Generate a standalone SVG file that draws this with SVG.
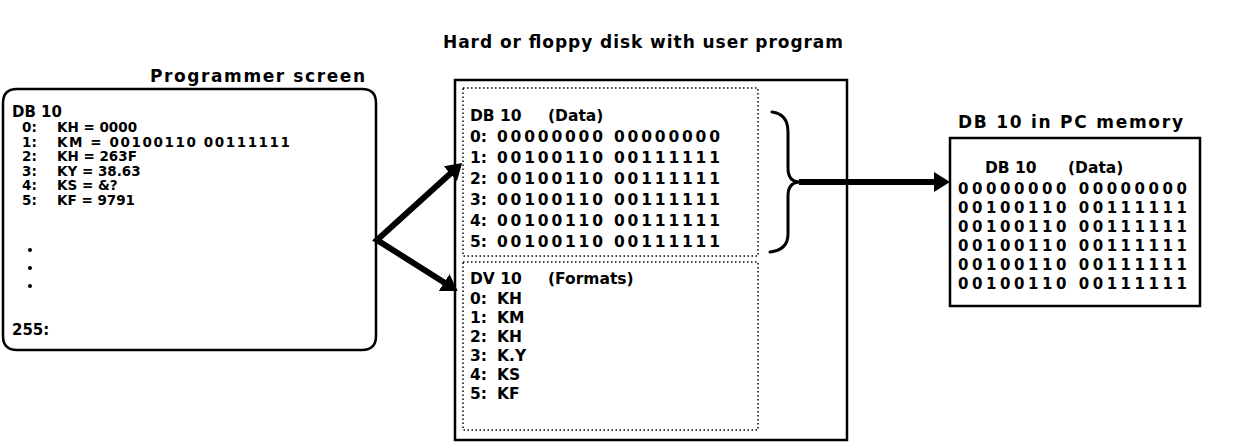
<svg xmlns="http://www.w3.org/2000/svg" width="1247" height="446" viewBox="0 0 1247 446">
<style>
text{font-family:"DejaVu Sans","Liberation Sans",sans-serif;font-weight:bold;fill:#000}
.t{font-size:17px}
.h{font-size:15px}
.s{font-size:13.5px}
.m{font-size:15.5px}
.p{font-size:15px}
.box{fill:none;stroke:#000;stroke-width:2.5}
.dot{fill:none;stroke:#000;stroke-width:1.5;stroke-dasharray:1.5 2.5}
.conn{fill:none;stroke:#000;stroke-width:6;stroke-linejoin:miter}
.brace{fill:none;stroke:#000;stroke-width:3;stroke-linecap:round}
</style>
<defs>
<marker id="ah" viewBox="0 0 16 20" refX="1" refY="10" markerWidth="16" markerHeight="20" orient="auto-start-reverse" markerUnits="userSpaceOnUse">
<path d="M0,0 L16,10 L0,20 z" fill="#000"/>
</marker>
</defs>
<text class="t" x="443" y="48" textLength="400">Hard or floppy disk with user program</text>
<g id="screen">
<text class="t" x="150" y="82" textLength="215">Programmer screen</text>
<path class="box" d="M17,89 H362 Q376,89 376,103 V336 Q376,350 362,350 H17 Q3,350 3,336 V103 Q3,89 17,89 Z"/>
<text class="h" x="12" y="117">DB 10</text>
<text class="s" x="22" y="132">0:</text><text class="s" x="57" y="132">KH = 0000</text>
<text class="s" x="22" y="146.6">1:</text><text class="s" x="57" y="146.6" textLength="233">KM = 00100110 00111111</text>
<text class="s" x="22" y="161.2">2:</text><text class="s" x="57" y="161.2">KH = 263F</text>
<text class="s" x="22" y="175.8">3:</text><text class="s" x="57" y="175.8">KY = 38.63</text>
<text class="s" x="22" y="190.4">4:</text><text class="s" x="57" y="190.4">KS = &amp;?</text>
<text class="s" x="22" y="205">5:</text><text class="s" x="57" y="205">KF = 9791</text>
<circle cx="30" cy="250" r="2"/>
<circle cx="30" cy="268" r="2"/>
<circle cx="30" cy="286" r="2"/>
<text class="h" x="12" y="335">255:</text>
</g>
<g id="disk">
<rect class="box" x="455" y="80" width="392" height="360"/>
<rect class="dot" x="463" y="88" width="295" height="168"/>
<rect class="dot" x="463" y="262" width="295" height="168"/>
<text class="m" x="470" y="121">DB 10</text><text class="m" x="548" y="121">(Data)</text>
<text class="m" x="470" y="142">0:</text><text class="m" x="497" y="142" textLength="223">00000000 00000000</text>
<text class="m" x="470" y="163">1:</text><text class="m" x="497" y="163" textLength="223">00100110 00111111</text>
<text class="m" x="470" y="184">2:</text><text class="m" x="497" y="184" textLength="223">00100110 00111111</text>
<text class="m" x="470" y="205">3:</text><text class="m" x="497" y="205" textLength="223">00100110 00111111</text>
<text class="m" x="470" y="226">4:</text><text class="m" x="497" y="226" textLength="223">00100110 00111111</text>
<text class="m" x="470" y="247">5:</text><text class="m" x="497" y="247" textLength="223">00100110 00111111</text>
<text class="m" x="470" y="284">DV 10</text><text class="m" x="548" y="284">(Formats)</text>
<text class="m" x="470" y="304">0:</text><text class="m" x="497" y="304">KH</text>
<text class="m" x="470" y="323">1:</text><text class="m" x="497" y="323">KM</text>
<text class="m" x="470" y="342">2:</text><text class="m" x="497" y="342">KH</text>
<text class="m" x="470" y="361">3:</text><text class="m" x="497" y="361">K.Y</text>
<text class="m" x="470" y="380">4:</text><text class="m" x="497" y="380">KS</text>
<text class="m" x="470" y="399">5:</text><text class="m" x="497" y="399">KF</text>
</g>
<g id="pcmem">
<text class="t" x="958" y="128" textLength="225">DB 10 in PC memory</text>
<rect class="box" x="950" y="138" width="250" height="168"/>
<text class="m" x="985" y="173">DB 10</text><text class="m" x="1068" y="173">(Data)</text>
<text class="p" x="958" y="194" textLength="229">00000000 00000000</text>
<text class="p" x="958" y="213" textLength="229">00100110 00111111</text>
<text class="p" x="958" y="232" textLength="229">00100110 00111111</text>
<text class="p" x="958" y="251" textLength="229">00100110 00111111</text>
<text class="p" x="958" y="270" textLength="229">00100110 00111111</text>
<text class="p" x="958" y="289" textLength="229">00100110 00111111</text>
</g>
<g id="connectors">
<path class="conn" d="M451,173 L377,240 L445,283" marker-start="url(#ah)" marker-end="url(#ah)"/>
<path class="brace" d="M772,112 Q788,114 788,132 V168 Q788,182 800,182 Q788,182 788,196 V234 Q788,250 770,252"/>
<path class="conn" d="M799,182 H935" marker-end="url(#ah)"/>
</g>
</svg>
